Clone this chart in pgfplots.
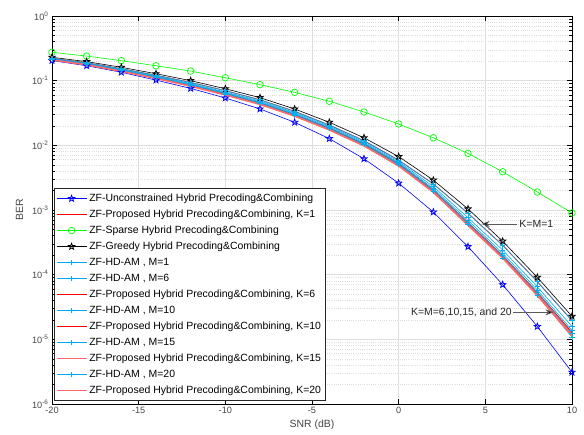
\documentclass[border=0pt]{standalone}
\usepackage{fontspec}
\setmainfont{Liberation Sans}
\usepackage{pgfplots}
\pgfplotsset{compat=1.18}
\usetikzlibrary{arrows.meta}

\definecolor{tickgray}{RGB}{70,70,70}
\definecolor{gridgray}{RGB}{222,222,222}
\definecolor{lightred}{RGB}{255,105,105}
\definecolor{arrgray}{RGB}{90,90,90}

\pgfdeclareplotmark{pstar}{%
  \pgfpathmoveto{\pgfpointpolar{90}{\pgfplotmarksize}}%
  \pgfpathlineto{\pgfpointpolar{126}{0.42\pgfplotmarksize}}%
  \pgfpathlineto{\pgfpointpolar{162}{\pgfplotmarksize}}%
  \pgfpathlineto{\pgfpointpolar{198}{0.42\pgfplotmarksize}}%
  \pgfpathlineto{\pgfpointpolar{234}{\pgfplotmarksize}}%
  \pgfpathlineto{\pgfpointpolar{270}{0.42\pgfplotmarksize}}%
  \pgfpathlineto{\pgfpointpolar{306}{\pgfplotmarksize}}%
  \pgfpathlineto{\pgfpointpolar{342}{0.42\pgfplotmarksize}}%
  \pgfpathlineto{\pgfpointpolar{18}{\pgfplotmarksize}}%
  \pgfpathlineto{\pgfpointpolar{54}{0.42\pgfplotmarksize}}%
  \pgfpathclose
  \pgfusepathqstroke
}

\begin{document}
\begin{tikzpicture}
\begin{axis}[
  name=main,
  scale only axis, width=520bp, height=388bp,
  ymode=log, xmin=-20, xmax=10, ymin=1e-6, ymax=1,
  xtick={-20,-15,-10,-5,0,5,10},
  xticklabels={-20,-15,-10,-5,0,5,10},
  ytick={1e-6,1e-5,1e-4,1e-3,1e-2,1e-1,1},
  yticklabels={10\textsuperscript{-6},10\textsuperscript{-5},10\textsuperscript{-4},10\textsuperscript{-3},10\textsuperscript{-2},10\textsuperscript{-1},10\textsuperscript{0}},
  tick label style={font=\fontsize{9.2}{10}\selectfont, text=tickgray},
  xmajorgrids, ymajorgrids, yminorgrids,
  major grid style={gridgray, line width=0.5bp},
  minor grid style={gridgray, line width=0.5bp, dash pattern=on 1bp off 1.2bp},
  tick align=inside, major tick length=5bp, minor tick length=3bp,
  tick style={black, line width=0.5bp},
  axis line style={black, line width=0.6bp},
  xlabel={SNR (dB)}, ylabel={BER},
  label style={font=\fontsize{10.5}{12}\selectfont, text=tickgray},
  xlabel style={at={(axis description cs:0.5,-0.054)}, anchor=center},
  ylabel style={at={(axis description cs:-0.0625,0.5)}, anchor=center},
  legend style={at={(axis description cs:0.003,0.008)}, anchor=south west,
    font=\fontsize{10.5}{12}\selectfont, draw=black!85, line width=0.6bp, fill=white,
    inner xsep=2bp, inner ysep=2bp, cells={anchor=west},
    nodes={inner ysep=2bp, text height=9bp, text depth=3bp}, row sep=0pt},
  legend image code/.code={\draw[mark repeat=2,mark phase=2] plot coordinates {(0bp,0bp) (15bp,0bp) (30bp,0bp)};},
]
% Unconstrained
\addplot[blue, line width=0.6bp, mark=pstar, mark size=3.3bp, mark options={solid, line width=0.8bp}] coordinates {
(-20,0.205) (-18,0.170) (-16,0.135) (-14,0.102) (-12,0.076) (-10,0.054) (-8,0.0365) (-6,0.0227)
(-4,0.0127) (-2,0.0062) (0,0.0026) (2,0.00093) (4,2.71e-4) (6,7.0e-5) (8,1.58e-5) (10,3.1e-6)};
\addlegendentry{ZF-Unconstrained Hybrid Precoding\&Combining}
% Proposed K=1
\addplot[red, line width=0.8bp] coordinates {
(-20,0.222) (-18,0.189) (-16,0.153) (-14,0.121) (-12,0.094) (-10,0.0700) (-8,0.0506) (-6,0.0335)
(-4,0.0206) (-2,0.0118) (0,0.0059) (2,0.00253) (4,0.00089) (6,2.85e-4) (8,7.8e-5) (10,1.95e-5)};
\addlegendentry{ZF-Proposed Hybrid Precoding\&Combining, K=1}
% Sparse
\addplot[green, line width=0.6bp, mark=o, mark size=3.3bp, mark options={solid, line width=0.7bp}] coordinates {
(-20,0.275) (-18,0.240) (-16,0.204) (-14,0.170) (-12,0.141) (-10,0.111) (-8,0.0867) (-6,0.066)
(-4,0.048) (-2,0.0328) (0,0.0214) (2,0.0131) (4,0.0075) (6,0.0039) (8,0.0019) (10,0.00090)};
\addlegendentry{ZF-Sparse Hybrid Precoding\&Combining}
% Greedy
\addplot[black, line width=0.6bp, mark=pstar, mark size=3.3bp, mark options={solid, line width=0.8bp}] coordinates {
(-20,0.230) (-18,0.197) (-16,0.161) (-14,0.128) (-12,0.100) (-10,0.0750) (-8,0.0546) (-6,0.0365)
(-4,0.0227) (-2,0.0131) (0,0.0067) (2,0.0029) (4,0.00104) (6,3.3e-4) (8,9.1e-5) (10,2.27e-5)};
\addlegendentry{ZF-Greedy Hybrid Precoding\&Combining}
% HD-AM M=1
\addplot[cyan, line width=0.6bp, mark=+, mark size=2.6bp, mark options={solid, line width=0.7bp}] coordinates {
(-20,0.222) (-18,0.189) (-16,0.153) (-14,0.121) (-12,0.094) (-10,0.0700) (-8,0.0506) (-6,0.0335)
(-4,0.0206) (-2,0.0118) (0,0.0059) (2,0.00253) (4,0.00089) (6,2.85e-4) (8,7.8e-5) (10,1.95e-5)};
\addlegendentry{ZF-HD-AM , M=1}
% HD-AM M=6
\addplot[cyan, line width=0.6bp, mark=+, mark size=2.6bp, mark options={solid, line width=0.7bp}] coordinates {
(-20,0.219) (-18,0.186) (-16,0.150) (-14,0.118) (-12,0.0905) (-10,0.0670) (-8,0.0485) (-6,0.0322)
(-4,0.0198) (-2,0.0113) (0,0.0056) (2,0.00230) (4,0.00076) (6,2.40e-4) (8,6.5e-5) (10,1.58e-5)};
\addlegendentry{ZF-HD-AM , M=6}
% Proposed K=6
\addplot[red, line width=1bp] coordinates {
(-20,0.214) (-18,0.181) (-16,0.145) (-14,0.113) (-12,0.086) (-10,0.063) (-8,0.0453) (-6,0.0299)
(-4,0.0184) (-2,0.0105) (0,0.0052) (2,0.00203) (4,0.00064) (6,1.98e-4) (8,5.3e-5) (10,1.28e-5)};
\addlegendentry{ZF-Proposed Hybrid Precoding\&Combining, K=6}
% HD-AM M=10
\addplot[cyan, line width=0.6bp, mark=+, mark size=2.6bp, mark options={solid, line width=0.7bp}] coordinates {
(-20,0.217) (-18,0.184) (-16,0.148) (-14,0.116) (-12,0.0885) (-10,0.0655) (-8,0.0472) (-6,0.0312)
(-4,0.0192) (-2,0.0109) (0,0.0054) (2,0.00215) (4,0.00069) (6,2.15e-4) (8,5.8e-5) (10,1.38e-5)};
\addlegendentry{ZF-HD-AM , M=10}
% Proposed K=10
\addplot[red, line width=1bp] coordinates {
(-20,0.212) (-18,0.179) (-16,0.143) (-14,0.111) (-12,0.0845) (-10,0.0618) (-8,0.0444) (-6,0.0293)
(-4,0.0180) (-2,0.0102) (0,0.0050) (2,0.00196) (4,0.00061) (6,1.89e-4) (8,5.0e-5) (10,1.21e-5)};
\addlegendentry{ZF-Proposed Hybrid Precoding\&Combining, K=10}
% HD-AM M=15
\addplot[cyan, line width=0.6bp, mark=+, mark size=2.6bp, mark options={solid, line width=0.7bp}] coordinates {
(-20,0.215) (-18,0.182) (-16,0.146) (-14,0.114) (-12,0.0870) (-10,0.0640) (-8,0.0460) (-6,0.0303)
(-4,0.0186) (-2,0.0106) (0,0.0052) (2,0.00205) (4,0.00064) (6,1.98e-4) (8,5.3e-5) (10,1.22e-5)};
\addlegendentry{ZF-HD-AM , M=15}
% Proposed K=15
\addplot[lightred, line width=1.3bp] coordinates {
(-20,0.210) (-18,0.177) (-16,0.141) (-14,0.1095) (-12,0.0830) (-10,0.0606) (-8,0.0435) (-6,0.0287)
(-4,0.0176) (-2,0.0100) (0,0.0049) (2,0.00192) (4,0.00060) (6,1.85e-4) (8,4.9e-5) (10,1.17e-5)};
\addlegendentry{ZF-Proposed Hybrid Precoding\&Combining, K=15}
% HD-AM M=20
\addplot[cyan, line width=0.6bp, mark=+, mark size=2.6bp, mark options={solid, line width=0.7bp}] coordinates {
(-20,0.213) (-18,0.180) (-16,0.144) (-14,0.112) (-12,0.0855) (-10,0.0625) (-8,0.0448) (-6,0.0294)
(-4,0.0180) (-2,0.0102) (0,0.0050) (2,0.00195) (4,0.00060) (6,1.82e-4) (8,4.8e-5) (10,1.08e-5)};
\addlegendentry{ZF-HD-AM , M=20}
% Proposed K=20
\addplot[lightred, line width=1.5bp] coordinates {
(-20,0.209) (-18,0.176) (-16,0.140) (-14,0.1085) (-12,0.0823) (-10,0.0600) (-8,0.0430) (-6,0.0283)
(-4,0.0173) (-2,0.0098) (0,0.0048) (2,0.00188) (4,0.00058) (6,1.80e-4) (8,4.75e-5) (10,1.13e-5)};
\addlegendentry{ZF-Proposed Hybrid Precoding\&Combining, K=20}

% annotations
\draw[arrgray, line width=0.7bp, -{Stealth[length=8bp,width=6bp,fill=black]}] (axis cs:6.81,6.08e-4) -- (axis cs:4.79,6.08e-4);
\node[anchor=west, inner sep=1bp, font=\fontsize{10.5}{12}\selectfont, text=black!85] at (axis cs:6.9,6.08e-4) {K=M=1};
\draw[arrgray, line width=0.7bp, -{Stealth[length=8bp,width=6bp,fill=black]}] (axis cs:6.59,2.62e-5) -- (axis cs:8.93,2.62e-5);
\node[anchor=east, inner sep=1bp, font=\fontsize{10.5}{12}\selectfont, text=black!85] at (axis cs:6.59,2.62e-5) {K=M=6,10,15, and 20};
\end{axis}
\pgfresetboundingbox
\path (main.south west) ++(-52bp,-31bp) rectangle ++(584bp,435bp);
\end{tikzpicture}
\end{document}
